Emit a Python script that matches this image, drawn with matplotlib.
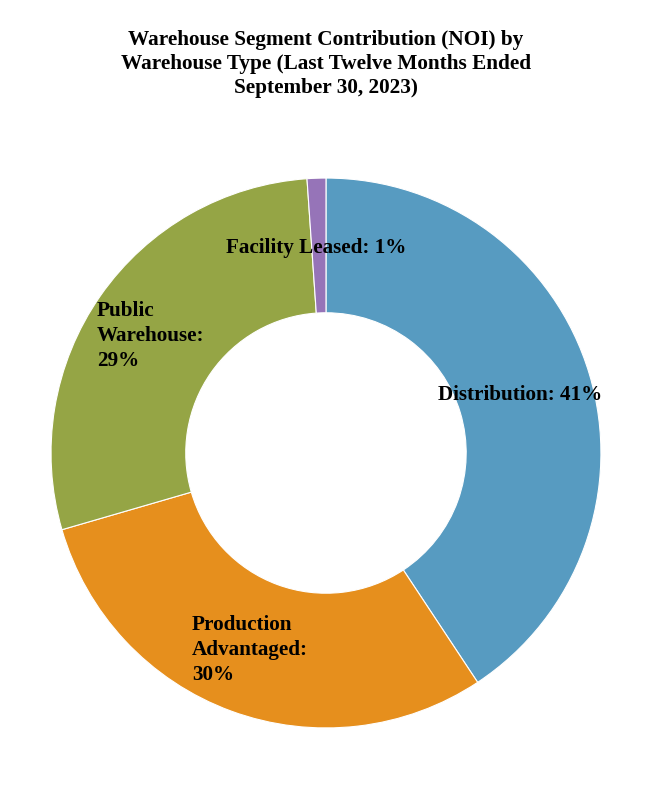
import matplotlib.pyplot as plt

plt.rcParams['font.family'] = ['Liberation Serif', 'DejaVu Serif']

# values; labels as printed on the chart
segments = ['Distribution', 'Production\nAdvantaged', 'Public\nWarehouse', 'Facility Leased']
shares = [40.7, 29.8, 28.4, 1.1]
label_text = ['Distribution: 41%', 'Production\nAdvantaged:\n30%',
              'Public\nWarehouse:\n29%', 'Facility Leased: 1%']
colors = ['#579bc1', '#e68f1d', '#95a545', '#9674b8']

fig = plt.figure(figsize=(6.5, 8), dpi=100)
ax = fig.add_axes([0.0785, 0.09, 0.846, 0.6875])

ax.pie(shares, colors=colors, startangle=90, counterclock=False,
       radius=1.0, wedgeprops=dict(width=0.49, edgecolor='white', linewidth=0.8))
ax.set_xlim(-1, 1)
ax.set_ylim(-1, 1)
ax.set_aspect('equal')
ax.axis('off')

# label placement in data coords (radius = 1)
lab_pos = [(0.408, 0.212, 'left', 'center'),
           (-0.487, -0.716, 'left', 'center'),
           (-0.833, 0.425, 'left', 'center'),
           (-0.036, 0.745, 'center', 'center')]
for txt, (x, y, ha, va) in zip(label_text, lab_pos):
    ax.text(x, y, txt, ha=ha, va=va, fontsize=15.2, fontweight='bold',
            linespacing=1.32, color='black')

fig.text(0.5015, 0.963, 'Warehouse Segment Contribution (NOI) by\n'
         'Warehouse Type (Last Twelve Months Ended\nSeptember 30, 2023)',
         ha='center', va='top', fontsize=15.3, fontweight='bold', linespacing=1.28)

fig.savefig('out.png', dpi=100)
